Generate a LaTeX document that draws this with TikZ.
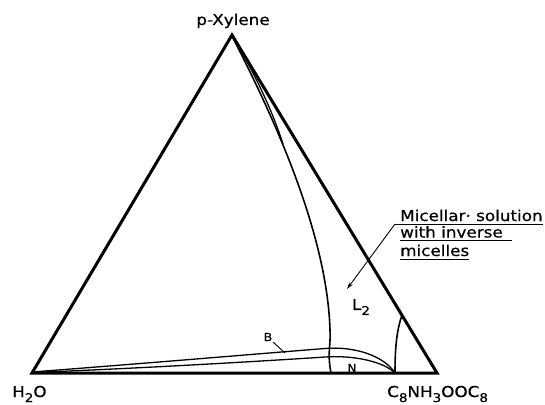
\documentclass[tikz,border=0pt]{standalone}
\usepackage{fontspec}
\setmainfont{DejaVu Sans}[FakeStretch=1.12,FakeBold=0.6]
\usetikzlibrary{arrows.meta}
\newcommand\lowsub[1]{\raisebox{-5pt}{\fontsize{12}{12}\selectfont #1}}
\begin{document}
\begin{tikzpicture}[x=1pt,y=-1pt,
  edge/.style={line width=3pt,line join=miter},
  phase/.style={line width=1.6pt,line join=round},
  thinline/.style={line width=1.3pt,line join=round},
  lbl/.style={inner sep=0pt,font=\fontsize{15}{15}\selectfont},
  small/.style={inner sep=0pt,font=\fontsize{11}{11}\selectfont}]
\useasboundingbox (0,0) rectangle (545,404);
% vertices
\coordinate (W) at (32,373);
\coordinate (E) at (437,373);
\coordinate (P) at (232,35);
\draw[edge] (W) -- (P) -- (E) -- cycle;
% L2 boundary from apex
\draw[phase] (232,36) .. controls (270,110) and (327,230) .. (330,330)
  .. controls (331,345) and (327,352) .. (331,373);
\draw[thinline] (233,37) .. controls (256,76) and (272,110) .. (283,144);
% right boundary
\draw[phase] (402,315) .. controls (397,330) and (395,345) .. (395,373);
% B curves
\draw[thinline] (32,372) .. controls (150,363) and (280,352) .. (325,348.5)
  .. controls (355,346) and (384,356) .. (395,373);
\draw[thinline] (32,372.5) .. controls (150,368) and (280,360) .. (325,357)
  .. controls (355,355) and (384,362) .. (395,373);
% labels
\node[lbl,anchor=base] (px) at (233,25) {p-Xylene};
\node[lbl,anchor=base west] (h2o) at (12,397) {H\lowsub{2}O};
\node[lbl,anchor=base west] (surf) at (387,397) {C\lowsub{8}NH\lowsub{3}OOC\lowsub{8}};
\node[small] (B) at (268,337) {B};
\coordinate (Bs) at (273,342);
\coordinate (Be) at (285,353);
\draw[line width=0.9pt] (Bs) -- (Be);
\node[small] (N) at (352,368) {N};
\node[lbl] (L2) at (361,307) {L\lowsub{2}};
% annotation
\node[lbl,anchor=base west] (t1) at (400,221) {Micellar· solution};
\node[lbl,anchor=base west] (t2) at (400,237.5) {with inverse};
\node[lbl,anchor=base west] (t3) at (400,256) {micelles};
\coordinate (lead) at (395,224);
\coordinate (tip) at (347,289);
\draw[line width=0.9pt] (lead) -- (543,224);
\draw[line width=0.9pt] (400,240.5) -- (512,240.5);
\draw[line width=0.9pt] (400,259) -- (469,259);
\draw[line width=0.9pt,-{Stealth[length=7pt,width=4pt]}] (lead) -- (tip);
\end{tikzpicture}
\end{document}
